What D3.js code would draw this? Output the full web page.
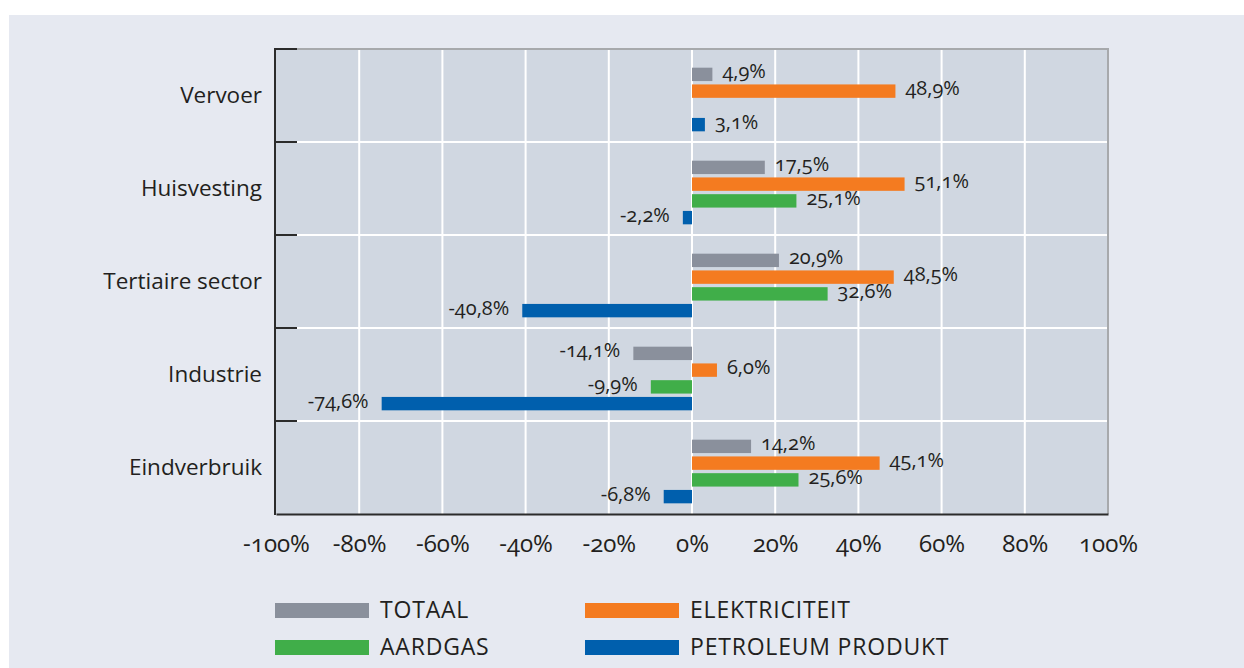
<!DOCTYPE html>
<html>
<head>
<meta charset="utf-8">
<script src="https://cdn.jsdelivr.net/npm/d3@7"></script>
<style>
  html, body { margin: 0; padding: 0; background: #ffffff; }
  svg text { font-family: "Open Sans", "DejaVu Sans", sans-serif; fill: #231f20; font-feature-settings: "onum"; }
</style>
</head>
<body>
<div id="chart"></div>
<script>
// data
var categories = ["Vervoer", "Huisvesting", "Tertiaire sector", "Industrie", "Eindverbruik"];
var seriesNames = ["TOTAAL", "ELEKTRICITEIT", "AARDGAS", "PETROLEUM PRODUKT"];
var seriesColors = ["#8a909c", "#f47b20", "#40ae49", "#005fad"];
var totaal = [4.9, 17.5, 20.9, -14.1, 14.2];
var elektriciteit = [48.9, 51.1, 48.5, 6.0, 45.1];
var aardgas = [null, 25.1, 32.6, -9.9, 25.6];
var petroleum = [3.1, -2.2, -40.8, -74.6, -6.8];
var xTicks = [-100, -80, -60, -40, -20, 0, 20, 40, 60, 80, 100];

var W = 1244, H = 668;
var plotLeft = 276, plotRight = 1108, plotTop = 49, plotBottom = 514;

var svg = d3.select("#chart").append("svg").attr("width", W).attr("height", H);

// panel background
svg.append("rect").attr("x", 9).attr("y", 15).attr("width", W - 9).attr("height", H - 15).attr("fill", "#e6e9f1");

var x = d3.scaleLinear().domain([-100, 100]).range([plotLeft, plotRight]);
var y = d3.scaleBand().domain(categories).range([plotTop, plotBottom]);
var yInner = d3.scaleBand().domain(seriesNames).range([17, 84]).paddingInner(0.2).paddingOuter(0.1);

// comma decimals, plain hyphen for minus
var fmt = function(v){ return v.toFixed(1).replace(".", ",") + "%"; };

// plot area
svg.append("rect").attr("x", x(-100)).attr("y", plotTop)
  .attr("width", x(100) - x(-100)).attr("height", plotBottom - plotTop).attr("fill", "#d0d7e1");

// vertical grid
svg.append("g").selectAll("line").data(xTicks.slice(1, -1)).enter().append("line")
  .attr("x1", function(d){ return x(d); }).attr("x2", function(d){ return x(d); })
  .attr("y1", plotTop).attr("y2", plotBottom)
  .attr("stroke", "#ffffff").attr("stroke-width", 2);

// horizontal grid at band boundaries
svg.append("g").selectAll("line").data(categories.slice(1)).enter().append("line")
  .attr("x1", x(-100)).attr("x2", x(100))
  .attr("y1", function(d){ return y(d); }).attr("y2", function(d){ return y(d); })
  .attr("stroke", "#ffffff").attr("stroke-width", 2);

// top and right border
svg.append("line").attr("x1", x(-100)).attr("x2", x(100) + 1).attr("y1", plotTop).attr("y2", plotTop)
  .attr("stroke", "#a7a9ac").attr("stroke-width", 2);
svg.append("line").attr("x1", x(100)).attr("x2", x(100)).attr("y1", plotTop).attr("y2", plotBottom)
  .attr("stroke", "#a7a9ac").attr("stroke-width", 2);

// bars
var rows = categories.map(function(c, i){
  return { cat: c, vals: [totaal[i], elektriciteit[i], aardgas[i], petroleum[i]] };
});

var groups = svg.append("g").selectAll("g").data(rows).enter().append("g")
  .attr("transform", function(d){ return "translate(0," + y(d.cat) + ")"; });

var items = groups.selectAll("g.item").data(function(d){
  return d.vals.map(function(v, j){ return { key: seriesNames[j], color: seriesColors[j], v: v }; })
    .filter(function(e){ return e.v !== null; });
}).enter().append("g").attr("class", "item");

items.append("rect")
  .attr("x", function(d){ return x(Math.min(0, d.v)); })
  .attr("y", function(d){ return yInner(d.key); })
  .attr("width", function(d){ return Math.abs(x(d.v) - x(0)); })
  .attr("height", yInner.bandwidth())
  .attr("fill", function(d){ return d.color; });

items.append("text")
  .attr("x", function(d){ return d.v < 0 ? x(d.v) - 13 : x(d.v) + 10; })
  .attr("y", function(d){ return yInner(d.key) + yInner.bandwidth() / 2 + 4; })
  .attr("text-anchor", function(d){ return d.v < 0 ? "end" : "start"; })
  .attr("font-size", 20)
  .text(function(d){ return fmt(d.v); });

// left axis
var yAxisG = svg.append("g").attr("transform", "translate(" + (plotLeft - 1) + ",0)");
yAxisG.append("line").attr("x1", 0).attr("x2", 0).attr("y1", plotTop - 1).attr("y2", plotBottom + 1)
  .attr("stroke", "#2b2b2b").attr("stroke-width", 2);
yAxisG.selectAll("line.tick").data(categories).enter().append("line").attr("class", "tick")
  .attr("x1", 0).attr("x2", 22)
  .attr("y1", function(d){ return y(d); }).attr("y2", function(d){ return y(d); })
  .attr("stroke", "#2b2b2b").attr("stroke-width", 2);
yAxisG.selectAll("text").data(categories).enter().append("text")
  .attr("x", -13).attr("y", function(d){ return y(d) + y.bandwidth() / 2; })
  .attr("dy", "0.35em").attr("text-anchor", "end").attr("font-size", 22.5)
  .text(function(d){ return d; });

// bottom axis
var xAxisG = svg.append("g").attr("transform", "translate(0," + plotBottom + ")")
  .call(d3.axisBottom(x).tickValues(xTicks).tickSize(0).tickPadding(21)
    .tickFormat(function(d){ return d + "%"; }));
xAxisG.select(".domain").attr("stroke", "#2b2b2b").attr("stroke-width", 2);
xAxisG.selectAll("text").attr("font-size", 24).attr("font-family", null).attr("fill", null);

// legend
var legendPos = [[275, 603], [585, 603], [275, 640], [585, 640]];
var legend = svg.append("g").selectAll("g").data(seriesNames).enter().append("g")
  .attr("transform", function(d, i){ return "translate(" + legendPos[i][0] + "," + legendPos[i][1] + ")"; });
legend.append("rect").attr("width", 94).attr("height", 15)
  .attr("fill", function(d, i){ return seriesColors[i]; });
legend.append("text").attr("x", 105).attr("y", 15).attr("font-size", 23).attr("letter-spacing", 0.8)
  .text(function(d){ return d; });
</script>
</body>
</html>
